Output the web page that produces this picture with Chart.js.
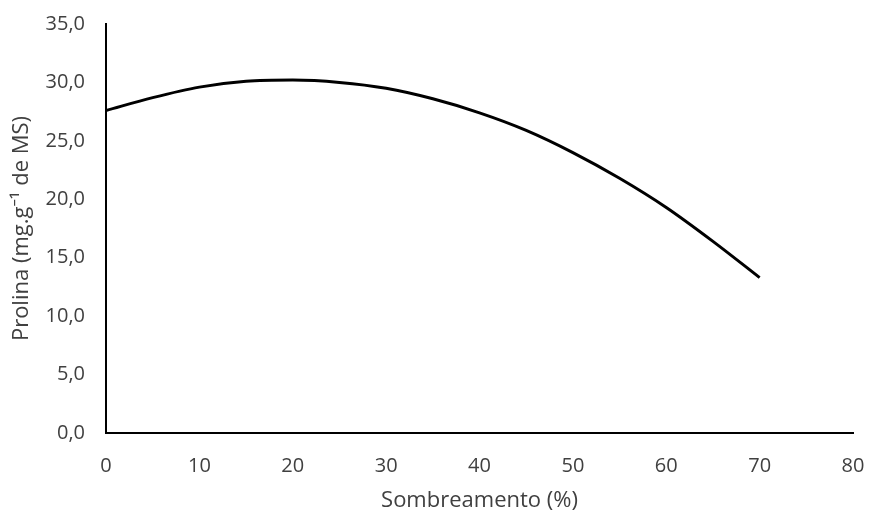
<!DOCTYPE html>
<html>
<head>
<meta charset="utf-8">
<script src="https://cdn.jsdelivr.net/npm/chart.js@4"></script>
<style>
  html, body { margin: 0; padding: 0; background: #fff; }
  #wrap { width: 869px; height: 512px; }
</style>
</head>
<body>
<div id="wrap"><canvas id="chart" width="869" height="512"></canvas></div>
<script>
// Sombreamento (%) and Prolina values
const sombreamento = [0, 5, 10, 15, 20, 25, 30, 35, 40, 45, 50, 55, 60, 65, 70];
const prolina = [27.6, 28.7, 29.6, 30.1, 30.2, 30.0, 29.5, 28.6, 27.4, 25.9, 24.0, 21.8, 19.3, 16.4, 13.3];

const xTicks = [0, 10, 20, 30, 40, 50, 60, 70, 80];
const yTicks = [0, 5, 10, 15, 20, 25, 30, 35];

const fontFamily = "'Open Sans', 'Noto Sans', sans-serif";
const textColor = '#404040';

const points = sombreamento.map((x, i) => ({ x: x, y: prolina[i] }));

new Chart(document.getElementById('chart').getContext('2d'), {
    type: 'scatter',
    data: {
        datasets: [{
            data: points,
            showLine: true,
            borderColor: '#000',
            borderWidth: 3,
            pointRadius: 0,
            cubicInterpolationMode: 'monotone',
            fill: false
        }]
    },
    options: {
        responsive: false,
        animation: false,
        layout: { padding: { top: 24, right: 16, bottom: 0, left: 0 } },
        plugins: {
            legend: { display: false },
            tooltip: { enabled: false }
        },
        scales: {
            x: {
                type: 'linear',
                min: xTicks[0],
                max: xTicks[xTicks.length - 1],
                afterBuildTicks: s => { s.ticks = xTicks.map(v => ({ value: v })); },
                afterFit: s => { s.height = 79; s.paddingLeft = 0; s.paddingRight = 0; },
                grid: { display: false, drawTicks: false },
                border: { display: true, color: '#000', width: 2 },
                ticks: {
                    color: textColor,
                    font: { family: fontFamily, size: 20 },
                    padding: 21,
                    maxRotation: 0
                },
                title: {
                    display: true,
                    text: 'Sombreamento (%)',
                    color: textColor,
                    font: { family: fontFamily, size: 22 },
                    padding: { top: 0, bottom: -2 }
                }
            },
            y: {
                type: 'linear',
                min: yTicks[0],
                max: yTicks[yTicks.length - 1],
                afterBuildTicks: s => { s.ticks = yTicks.map(v => ({ value: v })); },
                afterFit: s => { s.width = 106; s.paddingTop = 0; s.paddingBottom = 0; },
                grid: { display: false, drawTicks: false },
                border: { display: true, color: '#000', width: 2 },
                ticks: {
                    color: textColor,
                    font: { family: fontFamily, size: 20 },
                    padding: 21,
                    callback: v => v.toFixed(1).replace('.', ',')
                },
                title: {
                    display: true,
                    text: 'Prolina (mg.g⁻¹ de MS)',
                    color: textColor,
                    font: { family: fontFamily, size: 22 },
                    padding: { top: 9, bottom: 0 }
                }
            }
        }
    }
});
</script>
</body>
</html>
